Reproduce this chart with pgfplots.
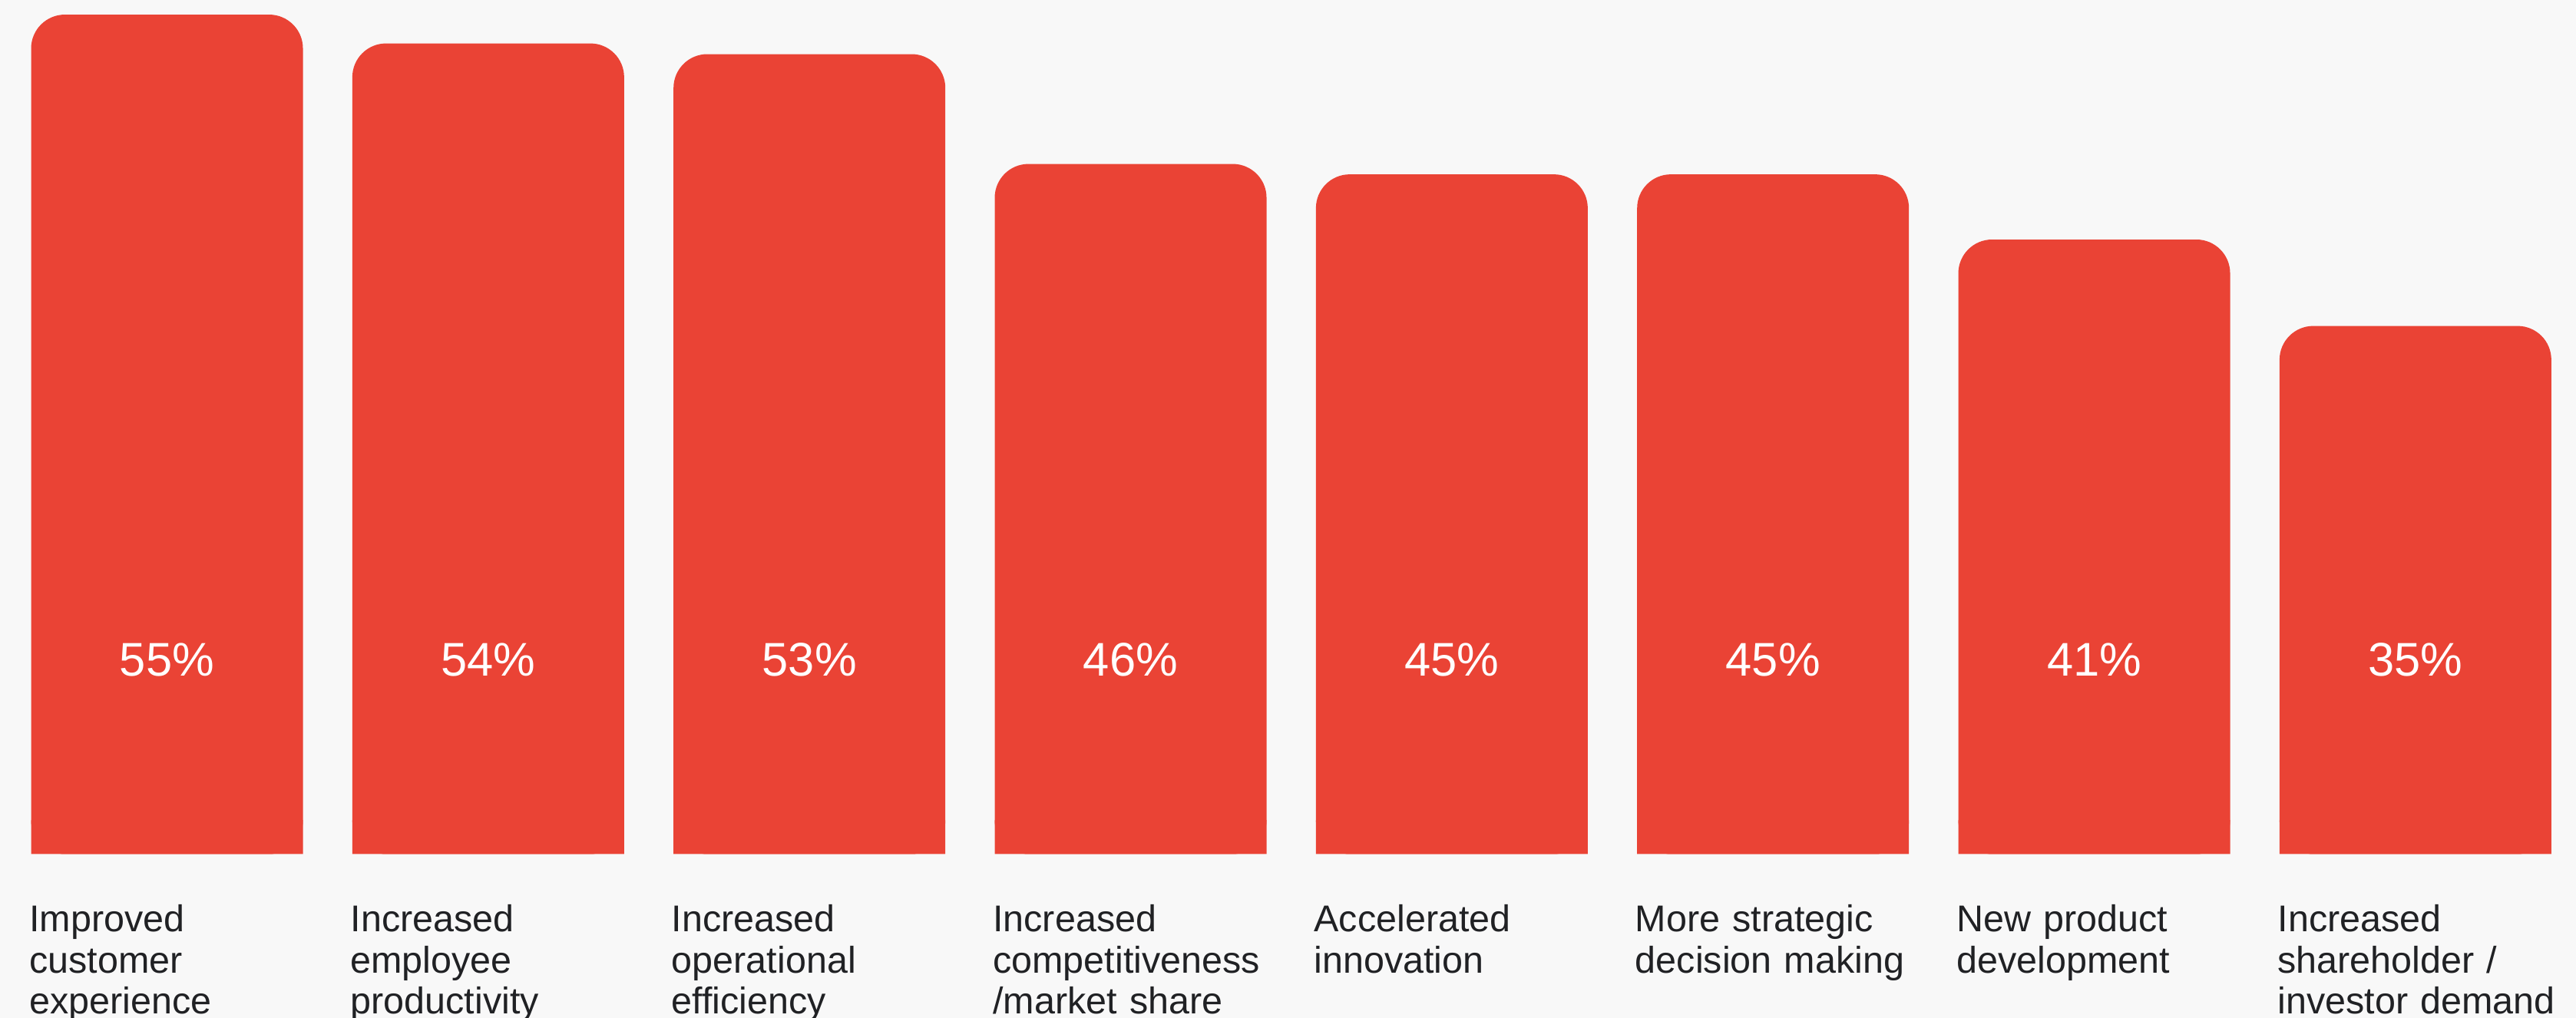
\documentclass[border=0pt]{standalone}
\usepackage{pgfplots}
\pgfplotsset{compat=1.18}
\usepackage{fontspec}
\setmainfont{Liberation Sans}
\definecolor{gred}{RGB}{234,67,53}
\definecolor{bg}{RGB}{248,248,248}
\definecolor{txt}{RGB}{32,33,36}
\begin{document}
\begin{tikzpicture}
\fill[bg] (0,-21.35mm) rectangle (335.5mm,111.25mm);
\clip (0,-21.35mm) rectangle (335.5mm,111.25mm);
\begin{axis}[
  at={(0,0)}, anchor=south west,
  scale only axis, width=335.5mm, height=111.25mm,
  xmin=-0.52, xmax=7.5, ymin=0, ymax=56.62,
  axis line style={draw=none},
  ytick=\empty,
  xtick={0,1,2,3,4,5,6,7},
  major tick length=0pt,
  xticklabels={{Improved\\customer\\experience},{Increased\\employee\\productivity},{Increased\\operational\\efficiency},{Increased\\competitiveness\\/market share},{Accelerated\\innovation},{More strategic\\decision making},{New product\\development},{Increased\\shareholder /\\investor demand}},
  xticklabel style={anchor=north west, inner sep=0pt, text width=38mm, align=left, xshift=-18mm, yshift=-6.55mm, font=\fontsize{13.8pt}{15.17pt}\selectfont, text=txt},
]
% bars with rounded corners (top corners kept)
\addplot[ybar, bar width=35.4mm, bar shift=0pt, fill=gred, draw=none, rounded corners=4.4mm] coordinates {(0,55.65) (1,53.74) (2,53.03) (3,45.75) (4,45.06) (5,45.06) (6,40.74) (7,35.01)};
% square lower corners: a strip exactly one corner radius high
\addplot[ybar, bar width=35.4mm, bar shift=0pt, fill=gred, draw=none] coordinates {(0,2.2394) (1,2.2394) (2,2.2394) (3,2.2394) (4,2.2394) (5,2.2394) (6,2.2394) (7,2.2394)};
\addplot[draw=none, nodes near coords, point meta=explicit symbolic, nodes near coords align=center, every node near coord/.append style={text=white, inner sep=0pt, font=\fontsize{17.5pt}{20pt}\selectfont}] coordinates {(0,12.9) [55\%] (1,12.9) [54\%] (2,12.9) [53\%] (3,12.9) [46\%] (4,12.9) [45\%] (5,12.9) [45\%] (6,12.9) [41\%] (7,12.9) [35\%]};
\end{axis}
\end{tikzpicture}
\end{document}
